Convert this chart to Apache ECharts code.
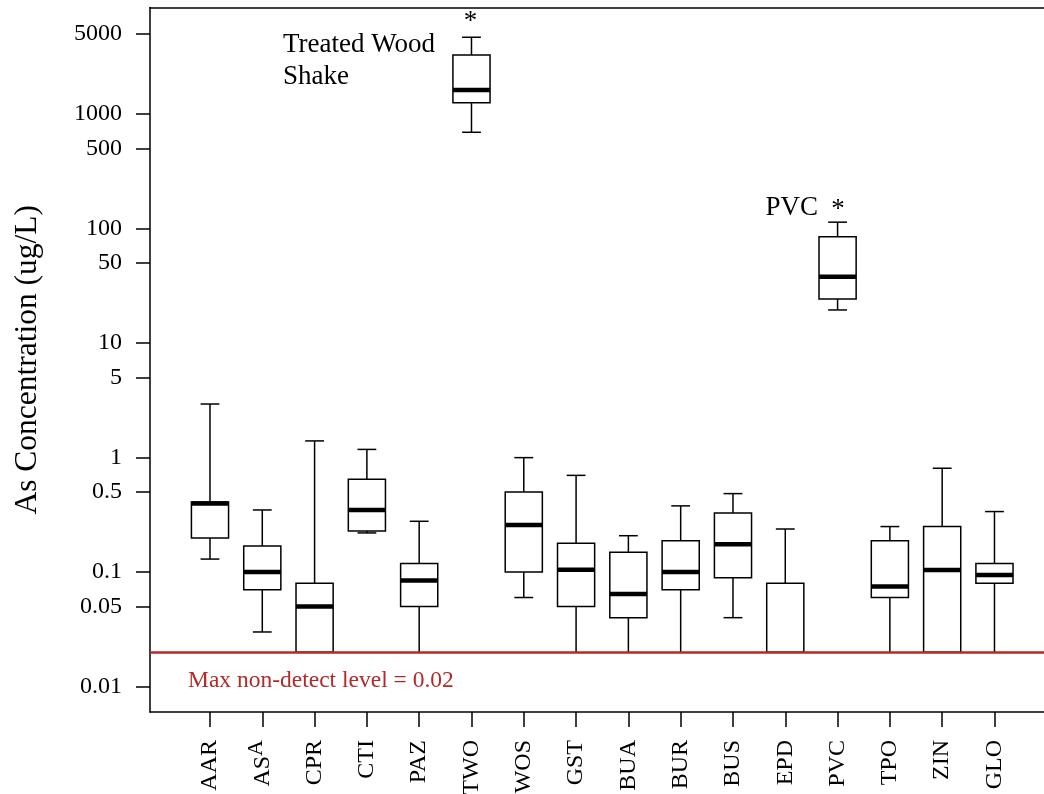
<!DOCTYPE html>
<html><head><meta charset="utf-8">
<script src="https://cdn.jsdelivr.net/npm/echarts@6/dist/echarts.min.js"></script>
<style>html,body{margin:0;padding:0;background:#fff}#c{width:1044px;height:794px}</style>
</head><body><div id="c"></div>
<script>
const categories = ['AAR','ASA','CPR','CTI','PAZ','TWO','WOS','GST','BUA','BUR','BUS','EPD','PVC','TPO','ZIN','GLO'];
const lowWhisker  = [0.13, 0.03, 0.02, 0.22, 0.02, 695, 0.06, 0.02, 0.02, 0.02, 0.04, 0.02, 19.5, 0.02, 0.02, 0.02];
const q1          = [0.199, 0.07, 0.02, 0.229, 0.05, 1260, 0.1, 0.05, 0.04, 0.07, 0.0895, 0.02, 24.3, 0.06, 0.02, 0.08];
const median      = [0.397, 0.1, 0.05, 0.349, 0.0843, 1626, 0.258, 0.105, 0.0645, 0.1, 0.175, 0.02, 38.1, 0.0747, 0.1045, 0.0946];
const q3          = [0.41, 0.169, 0.08, 0.647, 0.119, 3290, 0.5, 0.179, 0.149, 0.188, 0.329, 0.08, 85.1, 0.188, 0.25, 0.119];
const highWhisker = [2.94, 0.349, 1.40, 1.18, 0.278, 4700, 1.0, 0.70, 0.208, 0.379, 0.485, 0.238, 114, 0.25, 0.808, 0.338];
const yTicks = [0.01, 0.05, 0.1, 0.5, 1, 5, 10, 50, 100, 500, 1000, 5000];
const detectLimit = 0.02;

const FONT = 'Liberation Serif, Times New Roman, serif';
const RED = '#b22a2a';
const X_MIN = -0.147, X_MAX = 16.947;

const boxData = categories.map((c, i) => [i + 1, lowWhisker[i], q1[i], median[i], q3[i], highWhisker[i]]);
const xPositions = categories.map((c, i) => i + 1);

const chart = echarts.init(document.getElementById('c'), null, {renderer: 'canvas'});
chart.setOption({
  animation: false,
  backgroundColor: '#fff',
  grid: {left: 150, top: 7.5, right: 0, bottom: 82, show: false, containLabel: false, outerBoundsMode: 'none'},
  xAxis: [{
    type: 'value', min: X_MIN, max: X_MAX, position: 'bottom',
    splitLine: {show: false},
    axisLine: {show: true, onZero: false, lineStyle: {color: '#000', width: 1.5}},
    axisTick: {show: true, customValues: xPositions, length: 15, lineStyle: {color: '#000', width: 1.5}},
    axisLabel: {
      customValues: xPositions, rotate: 90, margin: 28,
      fontFamily: FONT, fontSize: 24, color: '#000', lineHeight: 34,
      formatter: v => {
        const name = categories[Math.round(v) - 1] || '';
        return name === 'ASA' ? 'AS{s|A}' : name;
      },
      rich: {s: {fontFamily: FONT, fontSize: 22, lineHeight: 20, verticalAlign: 'top', color: '#000'}}
    }
  }, {
    type: 'value', min: X_MIN, max: X_MAX, position: 'top',
    splitLine: {show: false},
    axisLine: {show: true, onZero: false, lineStyle: {color: '#000', width: 1.5}},
    axisTick: {show: false}, axisLabel: {show: false}
  }],
  yAxis: {
    type: 'log', logBase: 10, min: 0.006, max: 8550,
    name: 'As Concentration (ug/L)', nameLocation: 'middle', nameGap: 106,
    nameTextStyle: {fontFamily: FONT, fontSize: 31.5, color: '#000'},
    splitLine: {show: false},
    axisLine: {show: true, onZero: false, lineStyle: {color: '#000', width: 1.5}},
    axisTick: {show: true, customValues: yTicks, length: 14, lineStyle: {color: '#000', width: 1.5}},
    axisLabel: {
      customValues: yTicks, margin: 28, fontFamily: FONT, fontSize: 24, color: '#000',
      formatter: v => String(+Number(v).toPrecision(6))
    }
  },
  series: [{
    type: 'custom',
    xAxisIndex: 0,
    data: boxData,
    encode: {x: 0, y: [1, 2, 3, 4, 5]},
    renderItem: (params, api) => {
      const x = api.value(0);
      const lo = api.coord([x, api.value(1)]);
      const b1 = api.coord([x, api.value(2)]);
      const md = api.coord([x, api.value(3)]);
      const b3 = api.coord([x, api.value(4)]);
      const hi = api.coord([x, api.value(5)]);
      const unit = api.coord([x + 1, 1])[0] - api.coord([x, 1])[0];
      const hb = unit * 0.355, hc = unit * 0.18;
      const cx = lo[0];
      const ls = {stroke: '#000', lineWidth: 1.5, fill: null};
      const children = [
        {type: 'line', shape: {x1: cx, y1: hi[1], x2: cx, y2: b3[1]}, style: ls},
        {type: 'line', shape: {x1: cx, y1: b1[1], x2: cx, y2: lo[1]}, style: ls},
        {type: 'line', shape: {x1: cx - hc, y1: hi[1], x2: cx + hc, y2: hi[1]}, style: ls},
        {type: 'rect', shape: {x: cx - hb, y: b3[1], width: 2 * hb, height: b1[1] - b3[1]}, style: {stroke: '#000', lineWidth: 1.5, fill: '#fff'}}
      ];
      if (api.value(1) > detectLimit) {
        children.push({type: 'line', shape: {x1: cx - hc, y1: lo[1], x2: cx + hc, y2: lo[1]}, style: ls});
      }
      if (api.value(3) > detectLimit) {
        children.push({type: 'line', shape: {x1: cx - hb, y1: md[1], x2: cx + hb, y2: md[1]}, style: {stroke: '#000', lineWidth: 4.5}});
      }
      return {type: 'group', children};
    },
    markLine: {
      silent: true, symbol: 'none', z: 10,
      label: {show: false},
      lineStyle: {color: RED, width: 2.5, type: 'solid'},
      data: [{yAxis: detectLimit}]
    }
  }],
  graphic: [
    {type: 'text', left: 283, top: 28.8, style: {text: 'Treated Wood\nShake', font: '27px ' + FONT, lineHeight: 32, fill: '#000'}},
    {type: 'text', left: 765.5, top: 191.5, style: {text: 'PVC', font: '27px ' + FONT, lineHeight: 32, fill: '#000'}},
    {type: 'text', x: 470.5, y: 22, style: {text: '*', font: '27px ' + FONT, fill: '#000', align: 'center', verticalAlign: 'middle'}},
    {type: 'text', x: 838, y: 210, style: {text: '*', font: '27px ' + FONT, fill: '#000', align: 'center', verticalAlign: 'middle'}},
    {type: 'text', x: 188, y: 681, style: {text: 'Max non-detect level = 0.02', font: '23.5px ' + FONT, fill: RED, verticalAlign: 'middle'}}
  ]
});
</script></body></html>
